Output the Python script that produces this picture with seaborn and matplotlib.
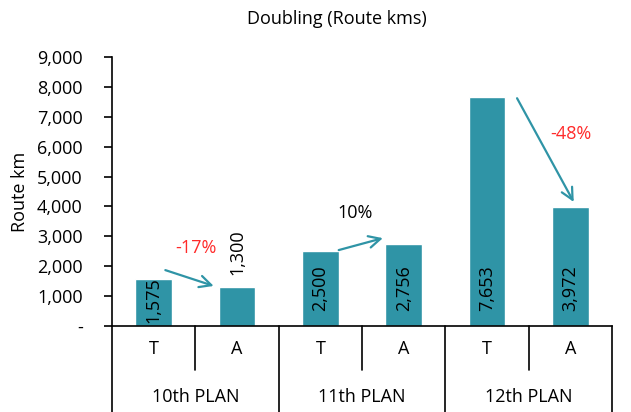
import pandas as pd
import seaborn as sns
import matplotlib.pyplot as plt
from matplotlib.ticker import FuncFormatter

# Data
plans = ["10th PLAN", "11th PLAN", "12th PLAN"]
kinds = ["T", "A"]
route_km = [1575, 1300, 2500, 2756, 7653, 3972]
changes = ["-17%", "10%", "-48%"]
change_colors = ["#FF2A2A", "black", "#FF2A2A"]

slots = [f"{p} {k}" for p in plans for k in kinds]
df = pd.DataFrame({"slot": slots, "route_km": route_km})

sns.set_theme(style="white", rc={"text.color": "black", "axes.labelcolor": "black",
                                 "ytick.color": "black", "xtick.color": "black"})
plt.rcParams["font.family"] = ["Open Sans", "DejaVu Sans"]

teal = "#2F94A6"
fs = 13

fig = plt.figure(figsize=(6.31, 4.12), dpi=100)
ax = fig.add_axes([0.1775, 0.2087, 0.7925, 0.653])

sns.barplot(data=df, x="slot", y="route_km", color=teal, saturation=1,
            width=0.44, ax=ax)

ax.set_ylim(0, 9000)
ax.set_xlim(-0.5, 5.5)
ax.set_yticks(range(0, 9001, 1000))
ax.yaxis.set_major_formatter(FuncFormatter(lambda v, p: "-" if v == 0 else f"{int(v):,}"))
ax.tick_params(axis="y", left=True, length=6, width=1.2, color="black",
               labelsize=fs, pad=15)
ax.set_xticks([])
ax.set_xlabel("")
ax.set_ylabel("Route km", fontsize=fs, labelpad=6)

for side in ["top", "right"]:
    ax.spines[side].set_visible(False)
for side in ["left", "bottom"]:
    ax.spines[side].set_color("black")
    ax.spines[side].set_linewidth(1.2)

# value labels: rotated, at the bar base; short bars differ (like Excel)
for i, v in enumerate(route_km):
    if v < 1500:
        ax.annotate(f"{v:,}", (i, v), xytext=(0, 9), textcoords="offset points",
                    rotation=90, ha="center", va="bottom", fontsize=fs)
    elif v < 2000:
        ax.annotate(f"{v:,}", (i, 0), xytext=(0, 2), textcoords="offset points",
                    rotation=90, ha="center", va="bottom", fontsize=fs)
    else:
        ax.annotate(f"{v:,}", (i, 0), xytext=(0, 11), textcoords="offset points",
                    rotation=90, ha="center", va="bottom", fontsize=fs)

# change arrows
arrows = [((0.14, 1870), (0.72, 1340)), ((2.22, 2540), (2.75, 2940)), ((4.36, 7620), (5.04, 4150))]
text_pos = [(0.51, 2610), (2.42, 3780), (5.0, 6420)]
for (start, end), pos, txt, c in zip(arrows, text_pos, changes, change_colors):
    ax.annotate("", xy=end, xytext=start,
                arrowprops=dict(arrowstyle="->,head_length=0.7,head_width=0.35",
                                color=teal, lw=1.6, shrinkA=0, shrinkB=0))
    ax.text(pos[0], pos[1], txt, color=c, ha="center", va="center", fontsize=fs)

# two-level category table under the axis
trans = ax.get_xaxis_transform()
row1, row2 = -0.1636, -0.32
for b in [-0.5, 1.5, 3.5, 5.5]:
    ax.plot([b, b], [0, row2], color="black", lw=1.2, transform=trans, clip_on=False)
for b in [0.5, 2.5, 4.5]:
    ax.plot([b, b], [0, row1], color="black", lw=1.2, transform=trans, clip_on=False)
for i, s in enumerate(slots):
    ax.text(i, -0.085, s.split()[-1], transform=trans, ha="center", va="center", fontsize=fs)
for j, p in enumerate(plans):
    ax.text(2 * j + 0.5, -0.265, p, transform=trans, ha="center", va="center", fontsize=fs)

fig.text(0.534, 0.955, "Doubling (Route kms)", ha="center", va="center", fontsize=fs)

fig.savefig("out.png", dpi=100)
